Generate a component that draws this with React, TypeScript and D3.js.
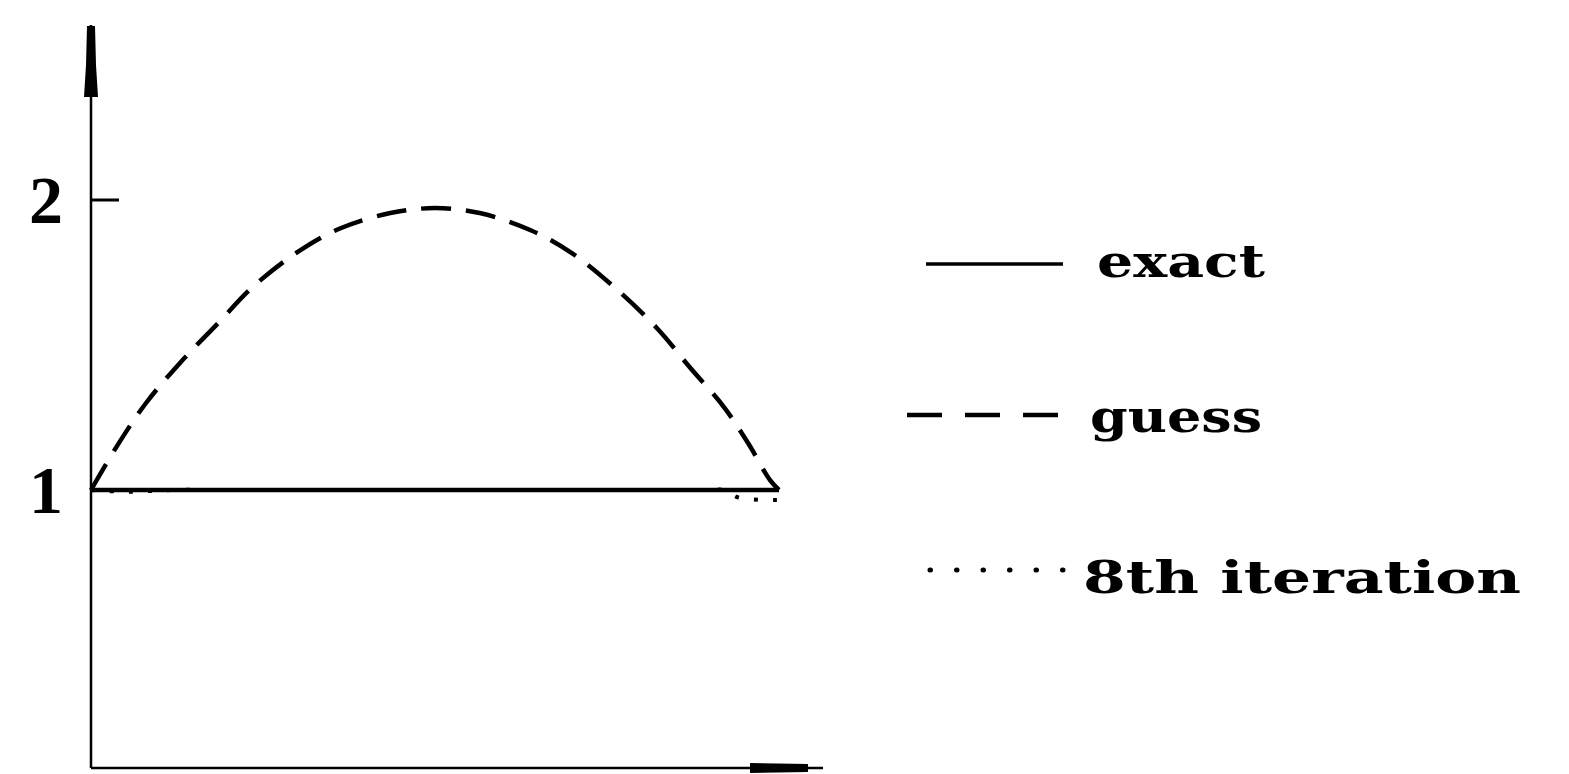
import React from "react";
import * as d3 from "d3";

// Sample positions along the x axis (unit interval)
const guessX = [0, 0.04, 0.08, 0.13, 0.185, 0.235, 0.3, 0.36, 0.435, 0.5, 0.565, 0.64, 0.7, 0.765, 0.825, 0.87, 0.92, 0.955, 0.987, 1];
const guessY = [1.0, 1.16, 1.3, 1.44, 1.576, 1.7, 1.82, 1.9, 1.955, 1.972, 1.955, 1.895, 1.815, 1.69, 1.552, 1.424, 1.286, 1.162, 1.034, 1.0];

const exactX = [0, 1];
const exactY = [1, 1];

const iterX = [0, 0.02, 0.05, 0.08, 0.12, 0.2, 0.3, 0.4, 0.5, 0.6, 0.7, 0.8, 0.9, 0.92, 0.94, 0.97, 1];
const iterY = [1.0, 0.997, 0.994, 0.996, 1.0, 1.0, 1.0, 1.0, 1.0, 1.0, 1.0, 1.0, 1.0, 1.0, 0.975, 0.966, 0.966];

const yTicks = [1, 2];
const legendLabels = ["exact", "guess", "8th iteration"];

const W = 1569;
const H = 774;

export default function App() {
  const x = d3.scaleLinear().domain([0, 1]).range([91, 779]);
  const y = d3.scaleLinear().domain([1, 2]).range([490, 200]);

  const smooth = d3
    .line<[number, number]>()
    .x((d) => x(d[0]))
    .y((d) => y(d[1]))
    .curve(d3.curveCatmullRom.alpha(0.5));

  const guessPath = smooth(guessX.map((v, i) => [v, guessY[i]]))!;
  const exactPath = smooth(exactX.map((v, i) => [v, exactY[i]]))!;
  const iterPath = smooth(iterX.map((v, i) => [v, iterY[i]]))!;

  const axisLeft = 91;
  const axisTop = 25;
  const axisBottom = 768;
  const axisRight = 823;

  const legendRows = [
    { y: 264, textY: 277, textX: 1097, textW: 168 },
    { y: 415, textY: 432, textX: 1090, textW: 172 },
    { y: 570, textY: 593, textX: 1083, textW: 438 },
  ];

  return (
    <svg
      width={W}
      height={H}
      style={{ position: "absolute", left: 0, top: 0, background: "#fff" }}
    >
      <rect width={W} height={H} fill="#fff" />

      {/* vertical axis with its arrow */}
      <line x1={axisLeft} y1={axisTop} x2={axisLeft} y2={axisBottom} stroke="#000" strokeWidth={2.5} />
      <path
        d={`M${axisLeft - 4},${axisTop + 1} L${axisLeft + 4},${axisTop + 1} L${axisLeft + 5},${axisTop + 40} L${axisLeft + 7},${axisTop + 72} L${axisLeft - 7},${axisTop + 72} L${axisLeft - 5},${axisTop + 40} Z`}
        fill="#000"
      />

      {/* horizontal axis with its arrow */}
      <line x1={axisLeft} y1={axisBottom} x2={axisRight} y2={axisBottom} stroke="#000" strokeWidth={2.5} />
      <path
        d={`M750,${axisBottom - 5} L808,${axisBottom - 4} L808,${axisBottom + 4} L750,${axisBottom + 5} Z`}
        fill="#000"
      />

      {/* y ticks */}
      <line x1={axisLeft} x2={axisLeft + 28} y1={y(2)} y2={y(2)} stroke="#000" strokeWidth={3} />
      {yTicks.map((t) => (
        <text
          key={t}
          x={46}
          y={y(t) + 23}
          textAnchor="middle"
          fontFamily="'Liberation Serif', serif"
          fontWeight="bold"
          fontSize={68}
          fill="#000"
        >
          {t}
        </text>
      ))}

      {/* series */}
      <path d={exactPath} fill="none" stroke="#000" strokeWidth={4.5} />
      <path d={iterPath} fill="none" stroke="#000" strokeWidth={4} strokeDasharray="4 15" />
      <path d={guessPath} fill="none" stroke="#000" strokeWidth={4.5} strokeDasharray="30 15" />

      {/* legend */}
      <line x1={926} x2={1063} y1={legendRows[0].y} y2={legendRows[0].y} stroke="#000" strokeWidth={3.5} />
      <line x1={907} x2={1064} y1={legendRows[1].y} y2={legendRows[1].y} stroke="#000" strokeWidth={4.5} strokeDasharray="35 23" />
      <line x1={930} x2={1064} y1={legendRows[2].y} y2={legendRows[2].y} stroke="#000" strokeWidth={5} strokeLinecap="round" strokeDasharray="0.5 26" />
      {legendLabels.map((lab, i) => (
        <text
          key={lab}
          x={legendRows[i].textX}
          y={legendRows[i].textY}
          fontFamily="'DejaVu Serif', serif"
          fontWeight="bold"
          fontSize={45}
          textLength={legendRows[i].textW}
          lengthAdjust="spacingAndGlyphs"
          fill="#000"
        >
          {lab}
        </text>
      ))}
    </svg>
  );
}
